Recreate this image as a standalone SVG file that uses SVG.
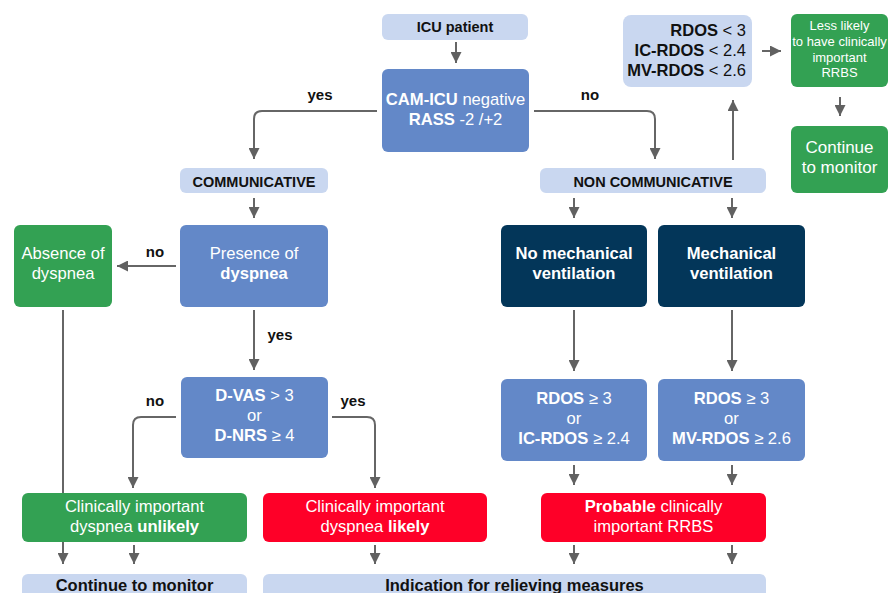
<svg xmlns="http://www.w3.org/2000/svg" width="896" height="593" viewBox="0 0 896 593">
<style>
text{font-family:"Liberation Sans",Arial,sans-serif;text-anchor:middle}
.lb{fill:#c9d7f0}
.mb{fill:#6388c8}
.nv{fill:#033659}
.gr{fill:#33a153}
.rd{fill:#fe0028}
.w{fill:#fff;font-size:16.6px}
.k{fill:#111;font-weight:bold}
.b{font-weight:bold}
.cn{fill:none;stroke:#666;stroke-width:2;marker-end:url(#ah)}
</style>
<defs>
<marker id="ah" markerUnits="userSpaceOnUse" markerWidth="12" markerHeight="11" refX="10" refY="5" orient="auto" viewBox="0 0 10 10">
<path d="M0,0 L10,5 L0,10 z" fill="#616161"/>
</marker>
</defs>
<rect width="896" height="593" fill="#fff"/>
<g id="connectors">
<path class="cn" d="M456,42 V63"/>
<path class="cn" d="M377,111 H262 Q254,111 254,119 V159"/>
<path class="cn" d="M534,111 H647 Q655,111 655,119 V159"/>
<path class="cn" d="M254,198 V218"/>
<path class="cn" d="M176,266 H117"/>
<path class="cn" d="M254,310 V370"/>
<path class="cn" d="M176,417 H141 Q133,417 133,425 V488"/>
<path class="cn" d="M332,417 H367 Q375,417 375,425 V488"/>
<path class="cn" d="M63,310 V564"/>
<path class="cn" d="M134,545 V564"/>
<path class="cn" d="M375,545 V564"/>
<path class="cn" d="M574,198 V218"/>
<path class="cn" d="M732,198 V218"/>
<path class="cn" d="M733,160 V100"/>
<path class="cn" d="M762,51 H781"/>
<path class="cn" d="M840,97 V116"/>
<path class="cn" d="M574,310 V371"/>
<path class="cn" d="M732,310 V371"/>
<path class="cn" d="M574,465 V485"/>
<path class="cn" d="M732,465 V485"/>
<path class="cn" d="M574,545 V564"/>
<path class="cn" d="M732,545 V564"/>
<text class="k" x="320" y="100" font-size="15">yes</text>
<text class="k" x="590" y="100" font-size="15">no</text>
<text class="k" x="155" y="257" font-size="15">no</text>
<text class="k" x="280" y="340" font-size="15">yes</text>
<text class="k" x="155" y="406" font-size="15">no</text>
<text class="k" x="353" y="406" font-size="15">yes</text>
</g>
<g id="icu">
<rect class="lb" x="382" y="14" width="146" height="26" rx="6"/>
<text class="k" x="455" y="32" font-size="14.5">ICU patient</text>
</g>
<g id="cam">
<rect class="mb" x="382" y="69" width="147" height="83" rx="6"/>
<text class="w" x="455.5" y="105"><tspan class="b">CAM-ICU</tspan> negative</text>
<text class="w" x="455.5" y="125"><tspan class="b">RASS</tspan> -2 /+2</text>
</g>
<g id="comm">
<rect class="lb" x="180" y="168" width="148" height="25" rx="6"/>
<text class="k" x="254" y="186.5" font-size="14.5">COMMUNICATIVE</text>
</g>
<g id="noncomm">
<rect class="lb" x="540" y="168" width="226" height="25" rx="6"/>
<text class="k" x="653" y="186.5" font-size="14.5">NON COMMUNICATIVE</text>
</g>
<g id="rdoslow">
<rect class="lb" x="623" y="15" width="129" height="72" rx="8"/>
<text x="746" y="36" font-size="16.5" style="text-anchor:end" fill="#111"><tspan class="b">RDOS</tspan> &lt; 3</text>
<text x="746" y="56" font-size="16.5" style="text-anchor:end" fill="#111"><tspan class="b">IC-RDOS</tspan> &lt; 2.4</text>
<text x="746" y="76" font-size="16.5" style="text-anchor:end" fill="#111"><tspan class="b">MV-RDOS</tspan> &lt; 2.6</text>
</g>
<g id="lesslikely">
<rect class="gr" x="791" y="14" width="97" height="73" rx="6"/>
<text x="839.5" y="30" font-size="13" fill="#fff">Less likely</text>
<text x="839.5" y="46" font-size="13" fill="#fff">to have clinically</text>
<text x="839.5" y="62" font-size="13" fill="#fff">important</text>
<text x="839.5" y="77" font-size="13" fill="#fff">RRBS</text>
</g>
<g id="continue1">
<rect class="gr" x="791" y="126" width="97" height="67" rx="6"/>
<text x="839.5" y="153" font-size="17" fill="#fff">Continue</text>
<text x="839.5" y="173" font-size="17" fill="#fff">to monitor</text>
</g>
<g id="absence">
<rect class="gr" x="14" y="225" width="98" height="82" rx="6"/>
<text class="w" x="63" y="259">Absence of</text>
<text class="w" x="63" y="279">dyspnea</text>
</g>
<g id="presence">
<rect class="mb" x="180" y="225" width="148" height="82" rx="6"/>
<text class="w" x="254" y="259">Presence of</text>
<text class="w b" x="254" y="279">dyspnea</text>
</g>
<g id="nomech">
<rect class="nv" x="501" y="225" width="146" height="82" rx="6"/>
<text class="w b" x="574" y="259">No mechanical</text>
<text class="w b" x="574" y="279">ventilation</text>
</g>
<g id="mech">
<rect class="nv" x="658" y="225" width="147" height="82" rx="6"/>
<text class="w b" x="731.5" y="259">Mechanical</text>
<text class="w b" x="731.5" y="279">ventilation</text>
</g>
<g id="dvas">
<rect class="mb" x="181" y="377" width="147" height="81" rx="6"/>
<text class="w" x="254.5" y="401"><tspan class="b">D-VAS</tspan> &gt; 3</text>
<text class="w" x="254.5" y="421">or</text>
<text class="w" x="254.5" y="441"><tspan class="b">D-NRS</tspan> ≥ 4</text>
</g>
<g id="rdosic">
<rect class="mb" x="501" y="379" width="146" height="82" rx="6"/>
<text class="w" x="574" y="404"><tspan class="b">RDOS</tspan> ≥ 3</text>
<text class="w" x="574" y="424">or</text>
<text class="w" x="574" y="444"><tspan class="b">IC-RDOS</tspan> ≥ 2.4</text>
</g>
<g id="rdosmv">
<rect class="mb" x="658" y="379" width="147" height="82" rx="6"/>
<text class="w" x="731.5" y="404"><tspan class="b">RDOS</tspan> ≥ 3</text>
<text class="w" x="731.5" y="424">or</text>
<text class="w" x="731.5" y="444"><tspan class="b">MV-RDOS</tspan> ≥ 2.6</text>
</g>
<g id="unlikely">
<rect class="gr" x="22" y="493" width="225" height="49" rx="6"/>
<text class="w" x="134.5" y="512">Clinically important</text>
<text class="w" x="134.5" y="532">dyspnea <tspan class="b">unlikely</tspan></text>
</g>
<g id="likely">
<rect class="rd" x="263" y="493" width="224" height="49" rx="6"/>
<text class="w" x="375" y="512">Clinically important</text>
<text class="w" x="375" y="532">dyspnea <tspan class="b">likely</tspan></text>
</g>
<g id="probable">
<rect class="rd" x="541" y="493" width="225" height="49" rx="6"/>
<text class="w" x="653.5" y="512"><tspan class="b">Probable</tspan> clinically</text>
<text class="w" x="653.5" y="532">important RRBS</text>
</g>
<g id="continue2">
<rect class="lb" x="22" y="574" width="225" height="30" rx="6"/>
<text class="k" x="134.5" y="591" font-size="16.5">Continue to monitor</text>
</g>
<g id="indication">
<rect class="lb" x="263" y="574" width="503" height="30" rx="6"/>
<text class="k" x="514.5" y="591" font-size="16.5">Indication for relieving measures</text>
</g>
</svg>
